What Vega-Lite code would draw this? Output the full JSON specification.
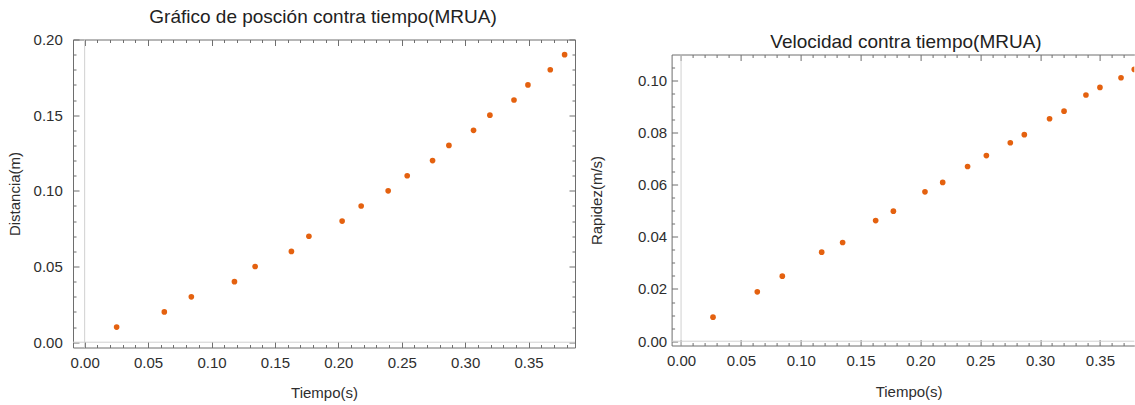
{
  "$schema": "https://vega.github.io/schema/vega-lite/v6.json",
  "padding": {"left": 7, "top": 7.5, "right": 0, "bottom": 0},
  "background": "white",
  "config": {
    "font": "Liberation Sans",
    "view": {"stroke": null},
    "axis": {
      "grid": false,
      "domainColor": "#6e6e6e",
      "tickColor": "#6e6e6e",
      "domainWidth": 1,
      "tickWidth": 1,
      "labelColor": "#2e2e2e",
      "labelFont": "Liberation Sans",
      "labelFontSize": 15,
      "titleFont": "Liberation Sans",
      "titleFontSize": 15,
      "titleFontWeight": "normal",
      "titleColor": "#2e2e2e",
      "labelFlush": false,
      "labelOverlap": false,
      "labelBound": false
    },
    "title": {"font": "Liberation Sans", "fontSize": 19, "fontWeight": "normal", "color": "#222222", "baseline": "bottom"}
  },
  "datasets": {
    "pos": [
      {"t": 0.0252, "d": 0.01}, {"t": 0.0628, "d": 0.02}, {"t": 0.0841, "d": 0.03},
      {"t": 0.1181, "d": 0.04}, {"t": 0.1344, "d": 0.05}, {"t": 0.1630, "d": 0.06},
      {"t": 0.1768, "d": 0.07}, {"t": 0.2030, "d": 0.08}, {"t": 0.2180, "d": 0.09},
      {"t": 0.2393, "d": 0.10}, {"t": 0.2543, "d": 0.11}, {"t": 0.2743, "d": 0.12},
      {"t": 0.2872, "d": 0.13}, {"t": 0.3066, "d": 0.14}, {"t": 0.3195, "d": 0.15},
      {"t": 0.3385, "d": 0.16}, {"t": 0.3495, "d": 0.17}, {"t": 0.3671, "d": 0.18},
      {"t": 0.3784, "d": 0.19}
    ],
    "vel": [
      {"t": 0.0267, "v": 0.0092}, {"t": 0.0637, "v": 0.0189}, {"t": 0.0846, "v": 0.0249},
      {"t": 0.1175, "v": 0.0341}, {"t": 0.1350, "v": 0.0378}, {"t": 0.1626, "v": 0.0462},
      {"t": 0.1774, "v": 0.0498}, {"t": 0.2038, "v": 0.0572}, {"t": 0.2186, "v": 0.0608},
      {"t": 0.2394, "v": 0.0669}, {"t": 0.2551, "v": 0.0711}, {"t": 0.2751, "v": 0.0760},
      {"t": 0.2868, "v": 0.0791}, {"t": 0.3079, "v": 0.0852}, {"t": 0.3200, "v": 0.0881},
      {"t": 0.3383, "v": 0.0943}, {"t": 0.3500, "v": 0.0972}, {"t": 0.3676, "v": 0.1009},
      {"t": 0.3787, "v": 0.1041}
    ]
  },
  "bounds": "flush",
  "spacing": 96.6,
  "hconcat": [
    {
      "width": 502,
      "height": 308,
      "title": {"text": "Gráfico de posción contra tiempo(MRUA)", "offset": 5.5, "dx": -1},
      "layer": [
        {
          "data": {"values": [{}]},
          "mark": {"type": "rule", "color": "#d0d0d0", "strokeWidth": 1},
          "encoding": {
            "x": {"datum": 0, "type": "quantitative",
              "axis": {"orient": "top", "labels": false, "title": null,
                "values": [0,0.01,0.02,0.03,0.04,0.05,0.06,0.07,0.08,0.09,0.1,0.11,0.12,0.13,0.14,0.15,0.16,0.17,0.18,0.19,0.2,0.21,0.22,0.23,0.24,0.25,0.26,0.27,0.28,0.29,0.3,0.31,0.32,0.33,0.34,0.35,0.36,0.37,0.38],
                "tickSize": {"condition": {"test": "round(datum.value*100)%5===0", "value": -6}, "value": -3}}}
          }
        },
        {
          "data": {"values": [{}]},
          "mark": {"type": "rule", "color": "#d0d0d0", "strokeWidth": 1},
          "encoding": {
            "y": {"datum": 0, "type": "quantitative",
              "axis": {"orient": "right", "labels": false, "title": null,
                "values": [0,0.01,0.02,0.03,0.04,0.05,0.06,0.07,0.08,0.09,0.1,0.11,0.12,0.13,0.14,0.15,0.16,0.17,0.18,0.19,0.2],
                "tickSize": {"condition": {"test": "round(datum.value*100)%5===0", "value": -6}, "value": -3}}}
          }
        },
        {
          "data": {"name": "pos"},
          "mark": {"type": "point", "filled": true, "size": 32, "opacity": 1, "color": "#E4610F"},
          "encoding": {
            "x": {"field": "t", "type": "quantitative",
              "scale": {"domain": [-0.0092, 0.3866], "nice": false, "zero": false},
              "axis": {"orient": "bottom", "title": "Tiempo(s)", "titleBaseline": "middle", "titleY": 45,
                "values": [0,0.01,0.02,0.03,0.04,0.05,0.06,0.07,0.08,0.09,0.1,0.11,0.12,0.13,0.14,0.15,0.16,0.17,0.18,0.19,0.2,0.21,0.22,0.23,0.24,0.25,0.26,0.27,0.28,0.29,0.3,0.31,0.32,0.33,0.34,0.35,0.36,0.37,0.38],
                "labelExpr": "round(datum.value*100)%5===0 ? format(datum.value, '.2f') : ''",
                "labelPadding": 14,
                "tickSize": {"condition": {"test": "round(datum.value*100)%5===0", "value": -6}, "value": -3}}},
            "y": {"field": "d", "type": "quantitative",
              "scale": {"domain": [-0.0035, 0.2], "nice": false, "zero": false},
              "axis": {"orient": "left", "title": "Distancia(m)", "titleBaseline": "middle", "titleX": -59,
                "values": [0,0.01,0.02,0.03,0.04,0.05,0.06,0.07,0.08,0.09,0.1,0.11,0.12,0.13,0.14,0.15,0.16,0.17,0.18,0.19,0.2],
                "labelExpr": "round(datum.value*100)%5===0 ? format(datum.value, '.2f') : ''",
                "labelPadding": 16.7,
                "tickSize": {"condition": {"test": "round(datum.value*100)%5===0", "value": -6}, "value": -3}}}
          }
        }
      ],
      "resolve": {"axis": {"x": "independent", "y": "independent"}}
    },
    {
      "bounds": "flush",
      "spacing": 14,
      "vconcat": [
        {
          "width": 462.7,
          "height": 1,
          "data": {"values": []},
          "mark": "point"
        },
        {
          "width": 462.7,
          "height": 291,
          "title": {"text": "Velocidad contra tiempo(MRUA)", "offset": 2.2, "dx": 3},
          "layer": [
            {
              "data": {"values": [{}]},
              "mark": {"type": "rule", "color": "#d0d0d0", "strokeWidth": 1},
              "encoding": {
                "x": {"datum": 0, "type": "quantitative",
                  "axis": {"orient": "top", "labels": false, "title": null,
                    "values": [0,0.01,0.02,0.03,0.04,0.05,0.06,0.07,0.08,0.09,0.1,0.11,0.12,0.13,0.14,0.15,0.16,0.17,0.18,0.19,0.2,0.21,0.22,0.23,0.24,0.25,0.26,0.27,0.28,0.29,0.3,0.31,0.32,0.33,0.34,0.35,0.36,0.37],
                    "tickSize": {"condition": {"test": "round(datum.value*100)%5===0", "value": -6}, "value": -3}}}
              }
            },
            {
              "data": {"values": [{}]},
              "mark": {"type": "rule", "color": "#d0d0d0", "strokeWidth": 1},
              "encoding": {
                "y": {"datum": 0, "type": "quantitative", "axis": null}
              }
            },
            {
              "data": {"name": "vel"},
              "mark": {"type": "point", "filled": true, "size": 32, "opacity": 1, "color": "#E4610F", "clip": true},
              "encoding": {
                "x": {"field": "t", "type": "quantitative",
                  "scale": {"domain": [-0.0079, 0.3787], "nice": false, "zero": false},
                  "axis": {"orient": "bottom", "title": "Tiempo(s)", "titleBaseline": "middle", "titleY": 46, "titleX": 237,
                    "values": [0,0.01,0.02,0.03,0.04,0.05,0.06,0.07,0.08,0.09,0.1,0.11,0.12,0.13,0.14,0.15,0.16,0.17,0.18,0.19,0.2,0.21,0.22,0.23,0.24,0.25,0.26,0.27,0.28,0.29,0.3,0.31,0.32,0.33,0.34,0.35,0.36,0.37],
                    "labelExpr": "round(datum.value*100)%5===0 ? format(datum.value, '.2f') : ''",
                    "labelPadding": 14,
                    "tickSize": {"condition": {"test": "round(datum.value*100)%5===0", "value": -6}, "value": -3}}},
                "y": {"field": "v", "type": "quantitative",
                  "scale": {"domain": [-0.00165, 0.1098], "nice": false, "zero": false},
                  "axis": {"orient": "left", "title": "Rapidez(m/s)", "titleBaseline": "middle", "titleX": -75,
                    "values": [0,0.005,0.01,0.015,0.02,0.025,0.03,0.035,0.04,0.045,0.05,0.055,0.06,0.065,0.07,0.075,0.08,0.085,0.09,0.095,0.1,0.105],
                    "labelExpr": "round(datum.value*1000)%20===0 ? format(datum.value, '.2f') : ''",
                    "labelPadding": 11,
                    "tickSize": {"condition": {"test": "round(datum.value*1000)%20===0", "value": -6}, "value": -3}}}
              }
            }
          ],
          "resolve": {"axis": {"x": "independent", "y": "independent"}}
        }
      ]
    }
  ]
}
